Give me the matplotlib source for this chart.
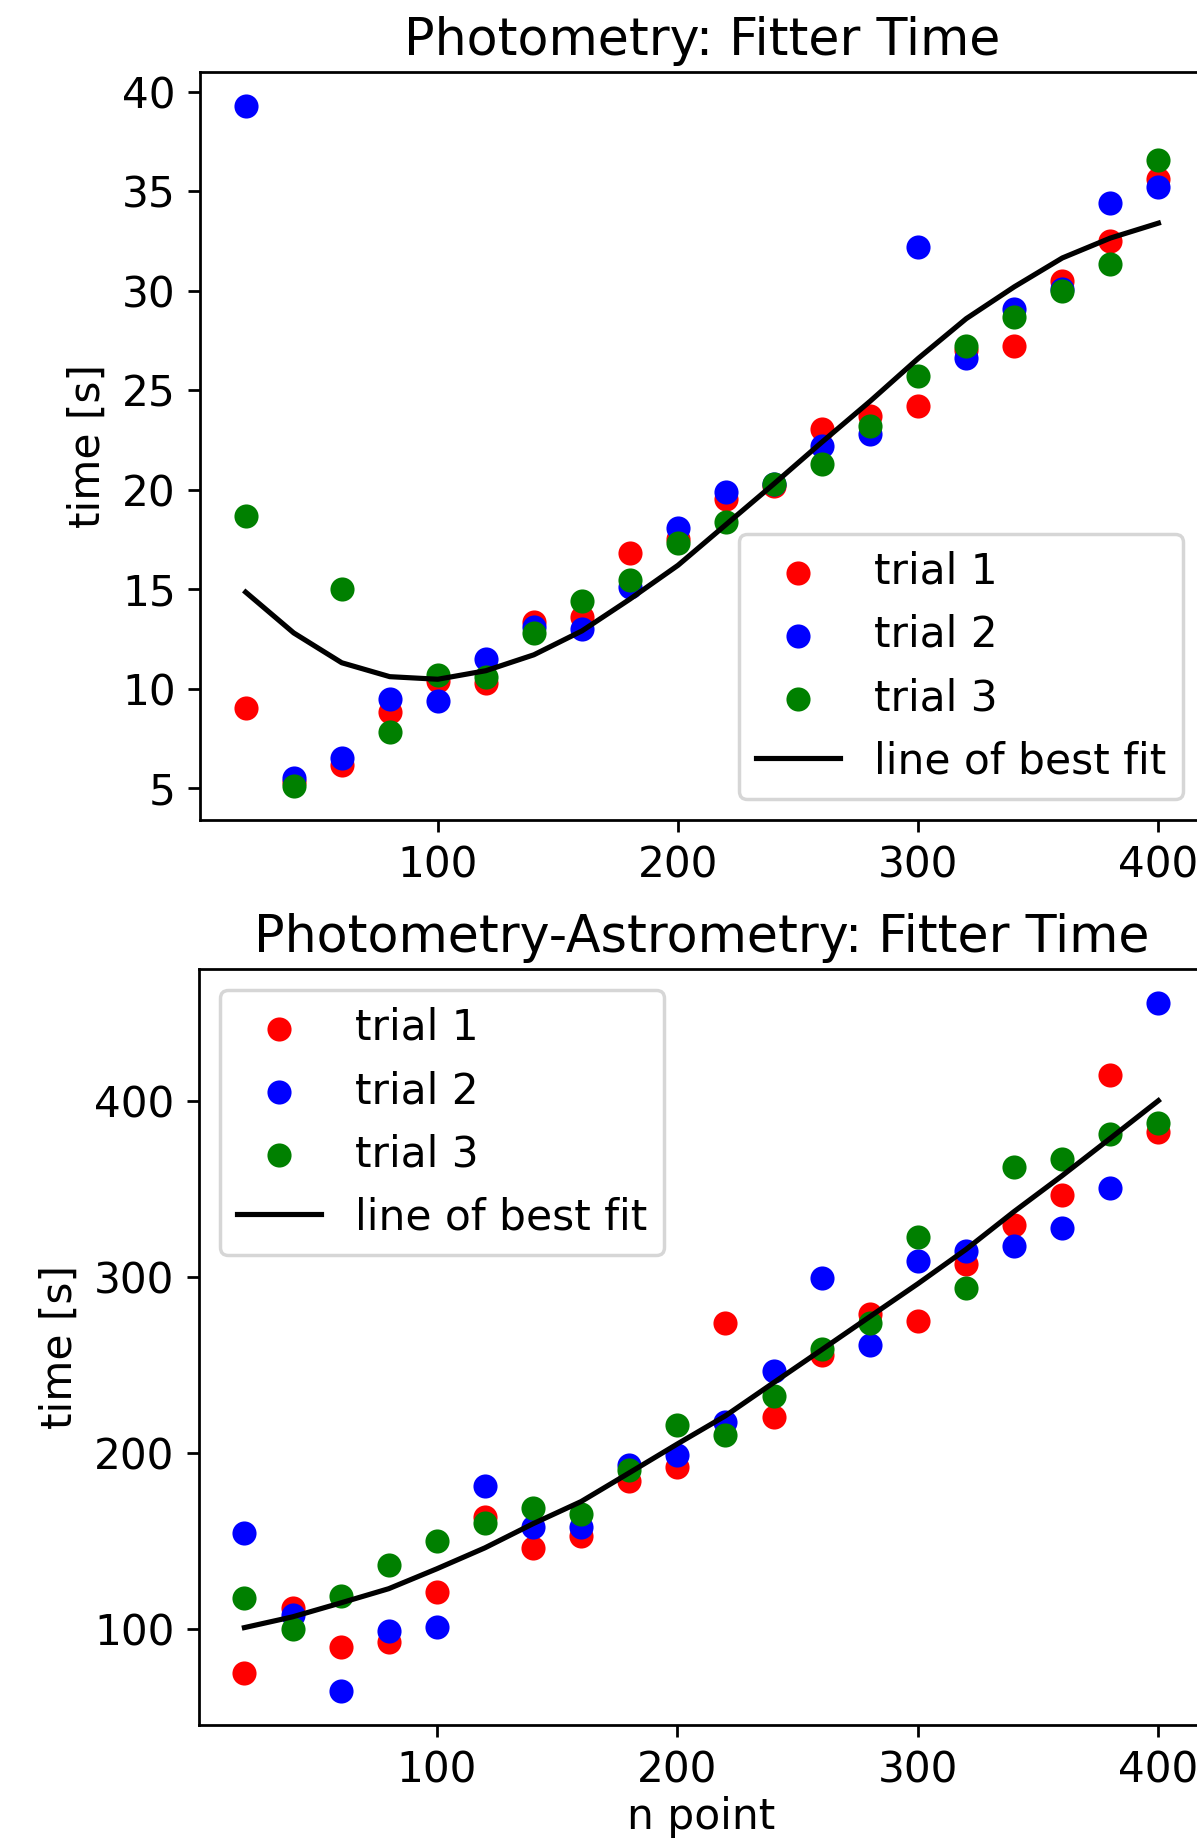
import numpy as np
import matplotlib
matplotlib.use("Agg")
import matplotlib.pyplot as plt
from matplotlib.ticker import MultipleLocator

n_point = [20, 40, 60, 80, 100, 120, 140, 160, 180, 200,
           220, 240, 260, 280, 300, 320, 340, 360, 380, 400]

# Photometry fitter time [s]
phot_trial1 = [9.0, 5.3, 6.15, 8.8, 10.4, 10.3, 13.35, 13.6, 16.8, 17.5,
               19.55, 20.2, 23.05, 23.7, 24.2, 27.0, 27.2, 30.5, 32.5, 35.6]
phot_trial2 = [39.3, 5.5, 6.5, 9.5, 9.4, 11.5, 13.1, 13.0, 15.1, 18.05,
               19.9, 20.3, 22.2, 22.8, 32.2, 26.6, 29.1, 30.1, 34.4, 35.2]
phot_trial3 = [18.7, 5.1, 15.0, 7.8, 10.7, 10.6, 12.8, 14.4, 15.45, 17.3,
               18.4, 20.3, 21.3, 23.2, 25.7, 27.2, 28.7, 30.0, 31.35, 36.55]
phot_fit = [14.85, 12.8, 11.3, 10.6, 10.47, 10.9, 11.7, 12.9, 14.5, 16.2,
            18.25, 20.3, 22.4, 24.45, 26.6, 28.6, 30.2, 31.65, 32.65, 33.4]

# Photometry-Astrometry fitter time [s]
pa_trial1 = [75.1, 111.9, 89.8, 92.5, 121.1, 163.8, 146.0, 152.8, 184.2, 192.1,
             273.9, 220.4, 255.8, 279.0, 274.9, 307.3, 329.5, 346.2, 414.4, 382.0]
pa_trial2 = [154.6, 107.8, 64.9, 99.0, 101.0, 181.1, 158.0, 158.0, 193.0, 198.9,
             217.6, 246.6, 299.5, 261.3, 308.7, 314.8, 317.2, 327.4, 350.6, 455.3]
pa_trial3 = [117.7, 100.0, 118.8, 136.5, 150.1, 160.3, 168.9, 165.5, 190.3, 215.9,
             210.1, 232.0, 259.2, 273.9, 322.3, 293.7, 362.5, 366.6, 381.3, 387.1]
pa_fit = [100.7, 106.8, 114.7, 122.8, 134.1, 146.0, 159.7, 172.3, 188.6, 205.0,
          221.0, 239.8, 258.5, 277.3, 296.0, 315.5, 337.0, 357.4, 378.6, 400.0]

trial_labels = ['trial 1', 'trial 2', 'trial 3']
trial_colors = ['red', 'blue', 'green']

plt.rcParams['font.size'] = 12.25

fig = plt.figure(figsize=(1197 / 248, 1840 / 248), dpi=248)
ax1 = fig.add_axes([0.1671, 0.5543, 0.8388, 0.4067])
ax2 = fig.add_axes([0.1660, 0.0625, 0.8399, 0.4109])


def draw(ax, trials, fit, title, loc):
    for vals, lab, col in zip(trials, trial_labels, trial_colors):
        ax.scatter(n_point, vals, color=col, label=lab)
    ax.plot(n_point, fit, color='black', label='line of best fit')
    ax.set_title(title, pad=5)
    ax.set_ylabel('time [s]')
    ax.legend(loc=loc)


draw(ax1, [phot_trial1, phot_trial2, phot_trial3], phot_fit,
     'Photometry: Fitter Time', 'lower right')
draw(ax2, [pa_trial1, pa_trial2, pa_trial3], pa_fit,
     'Photometry-Astrometry: Fitter Time', 'upper left')
ax2.set_xlabel('n point', labelpad=1.5)
ax2.yaxis.set_major_locator(MultipleLocator(100))

fig.savefig('out.png', dpi=248)
